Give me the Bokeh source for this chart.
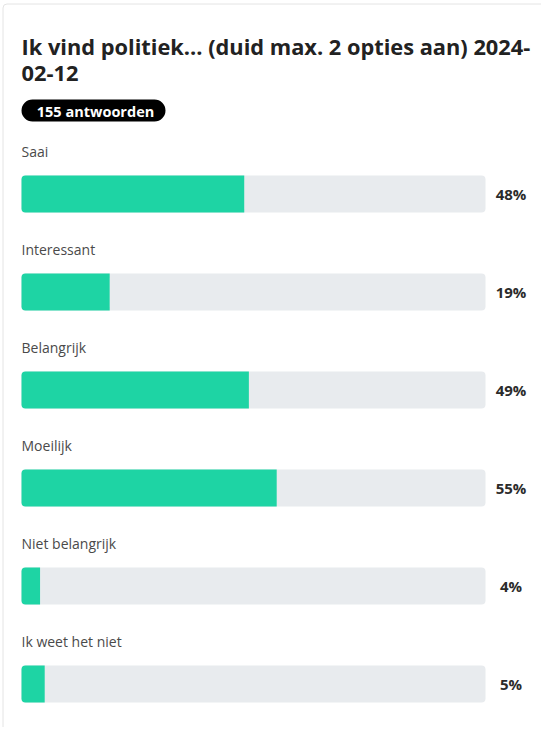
from bokeh.plotting import figure
from bokeh.models import Range1d
from bokeh.core.properties import value
from bokeh.embed import file_html
from bokeh.resources import INLINE

# ---- data ----
TITLE_LINES = ["Ik vind politiek... (duid max. 2 opties aan) 2024-", "02-12"]
RESPONSES = "155 antwoorden"
CATEGORIES = ["Saai", "Interessant", "Belangrijk", "Moeilijk", "Niet belangrijk", "Ik weet het niet"]
PERCENTS = [48, 19, 49, 55, 4, 5]
PCT_LABELS = [f"{v}%" for v in PERCENTS]

# ---- layout (figure pixels) ----
W, H = 541, 727
FONT = value("Open Sans")
TRACK_X0, TRACK_W = 21.0, 464.0        # pixel x of 0% and width of 100%
ROW0_Y, ROW_STEP = 193.5, 98.0         # pixel y of first bar centre, row spacing
BAR_H_PX = 37.0
LABEL_DY_PX = 43.0
PCT_X = 510.5

GREEN = "#1ed4a4"
TRACK = "#e8ebee"

p = figure(width=W, height=H, output_backend="svg", toolbar_location=None,
           x_range=Range1d(0, W), y_range=Range1d(H, 0),
           x_axis_location=None, y_axis_location=None, min_border=0,
           outline_line_color=None, background_fill_color="white",
           border_fill_color="white")
p.grid.visible = False

# percentage scale and row scale, mapped through extra ranges
p.extra_x_ranges = {"pct": Range1d(-TRACK_X0 / TRACK_W * 100, (W - TRACK_X0) / TRACK_W * 100)}
p.extra_y_ranges = {"row": Range1d((H - ROW0_Y) / ROW_STEP, -ROW0_Y / ROW_STEP)}

# card
p.quad(left=2.5, right=W + 40, top=3.5, bottom=H + 40, fill_color="white",
       line_color="#e4e4e4", line_width=1, border_radius=4)

# title
p.text(x=[21, 21], y=[45.5, 72.5], text=TITLE_LINES, text_font=FONT, text_font_size="21.8px",
       text_font_style="bold", text_color="#222222", text_baseline="alphabetic")

# responses pill
p.quad(left=21, right=165, top=99, bottom=121, fill_color="#000000", line_color=None,
       border_radius=11)
p.text(x=[95], y=[110.5], text=[RESPONSES], text_font=FONT, text_font_size="14.5px",
       text_font_style="bold", text_color="white", text_align="center", text_baseline="middle")

rows = list(range(len(CATEGORIES)))
bar_h = BAR_H_PX / ROW_STEP

# tracks
p.hbar(y=rows, left=0, right=100, height=bar_h, fill_color=TRACK, line_color=None,
       border_radius=4, x_range_name="pct", y_range_name="row")
# values
p.hbar(y=rows, left=0, right=PERCENTS, height=bar_h, fill_color=GREEN, line_color=None,
       border_radius=(4, 0, 0, 4), x_range_name="pct", y_range_name="row")

# category labels
p.text(x=[0] * len(rows), y=[r - LABEL_DY_PX / ROW_STEP for r in rows], text=CATEGORIES,
       text_font=FONT, text_font_size="14px", text_color="#4a4a4a", text_baseline="middle",
       x_range_name="pct", y_range_name="row")

# percentage labels
p.text(x=[PCT_X] * len(rows), y=rows, text=PCT_LABELS, text_font=FONT, text_font_size="15px",
       text_font_style="bold", text_color="#2b2b2b", text_align="center", text_baseline="middle",
       y_range_name="row")

open("out.html", "w").write(file_html(p, INLINE))
